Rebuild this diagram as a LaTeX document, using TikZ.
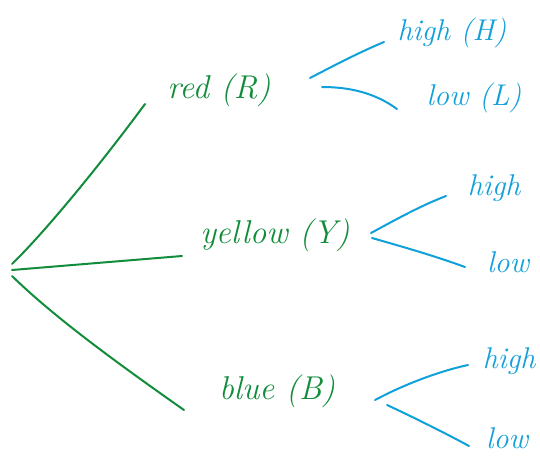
\documentclass[tikz,border=0pt]{standalone}
\usepackage{fontspec}
\definecolor{tgreen}{RGB}{16,140,58}
\definecolor{tblue}{RGB}{16,160,218}
\begin{document}
\begin{tikzpicture}[x=1pt,y=-1pt,
  glab/.style={text=tgreen,font=\fontsize{33}{37}\selectfont\itshape,inner sep=0pt},
  blab/.style={text=tblue,font=\fontsize{30}{34}\selectfont\itshape,inner sep=0pt},
  gline/.style={draw=tgreen,line width=2pt,line cap=round},
  bline/.style={draw=tblue,line width=2pt,line cap=round}]
\useasboundingbox (0,0) rectangle (540,460);
% labels
\node[glab] (R) at (219,90) {red (R)};
\node[glab] (Y) at (275,235) {yellow (Y)};
\node[glab] (B) at (277,391) {blue (B)};
\node[blab] (RH) at (452,33) {high (H)};
\node[blab] (RL) at (474,98) {low (L)};
\node[blab] (YH) at (494,188) {high};
\node[blab] (YL) at (508,262) {low};
\node[blab] (BH) at (509,361) {high};
\node[blab] (BL) at (507,438) {low};
% connector end points
\coordinate (root1) at (12,264);
\coordinate (root2) at (12,270);
\coordinate (root3) at (12,276);
\coordinate (Rin) at (145,104);
\coordinate (Yin) at (182,256);
\coordinate (Bin) at (184,410);
\coordinate (Rout1) at (310,78);
\coordinate (Rout2) at (322,87);
\coordinate (RHin) at (384,42);
\coordinate (RLin) at (397,109);
\coordinate (Yout1) at (371,233);
\coordinate (Yout2) at (372,238);
\coordinate (YHin) at (446,196);
\coordinate (YLin) at (465,267);
\coordinate (Bout1) at (375,400);
\coordinate (Bout2) at (387,405);
\coordinate (BHin) at (468,365);
\coordinate (BLin) at (469,446);
% green branches
\draw[gline] (root1) .. controls (45,232) and (100,165) .. (Rin);
\draw[gline] (root2) -- (Yin);
\draw[gline] (root3) .. controls (55,318) and (120,365) .. (Bin);
% blue branches
\draw[bline] (Rout1) .. controls (335,65) and (360,52) .. (RHin);
\draw[bline] (Rout2) .. controls (350,87) and (375,93) .. (RLin);
\draw[bline] (Yout1) .. controls (395,220) and (420,206) .. (YHin);
\draw[bline] (Yout2) .. controls (400,246) and (435,256) .. (YLin);
\draw[bline] (Bout1) .. controls (405,384) and (440,371) .. (BHin);
\draw[bline] (Bout2) .. controls (415,418) and (445,433) .. (BLin);
\end{tikzpicture}
\end{document}
